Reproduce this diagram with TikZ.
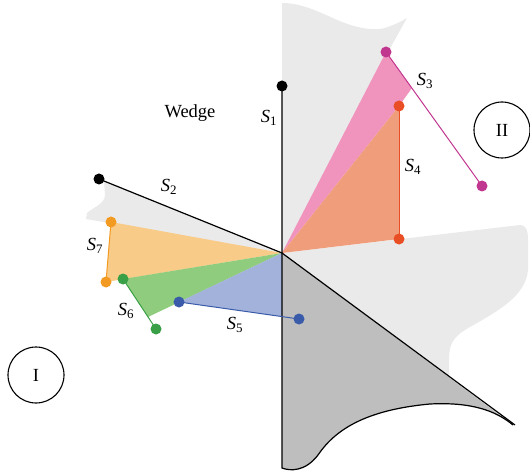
\documentclass[tikz,border=0pt]{standalone}
\usepackage{fontspec}
\setmainfont{Liberation Serif}
\definecolor{lgray}{HTML}{EAEAEA}
\definecolor{dgray}{HTML}{BEBEBE}
\definecolor{pinkf}{HTML}{F094BE}
\definecolor{magl}{HTML}{C1368F}
\definecolor{salf}{HTML}{F09D7C}
\definecolor{redl}{HTML}{E94E24}
\definecolor{orf}{HTML}{F9CB88}
\definecolor{orl}{HTML}{F39A22}
\definecolor{grf}{HTML}{8FCC7E}
\definecolor{grl}{HTML}{3AA048}
\definecolor{blf}{HTML}{A3B2DA}
\definecolor{bll}{HTML}{3A5BAA}
\newcommand\Sl[1]{\textit{S}\textsubscript{#1}}
\begin{document}
\begin{tikzpicture}[x=1pt,y=-1pt,
  dot/.style={circle,fill=#1,inner sep=0pt,minimum size=11pt},
  seg/.style={draw=#1,line width=1pt},
  lab/.style={font=\fontsize{18.5}{20}\selectfont,inner sep=1pt},
  zone/.style={draw,circle,line width=1.1pt,minimum size=56pt,inner sep=0pt,font=\fontsize{18.5}{20}\selectfont}]
\useasboundingbox (0,0) rectangle (530,473);
% key points
\coordinate (O) at (282,253);
\coordinate (p1) at (282,86);
\coordinate (p2) at (99,179);
\coordinate (m1) at (386,52);
\coordinate (m2) at (482,186);
\coordinate (mp) at (412,88);
\coordinate (r1) at (399,106);
\coordinate (r2) at (399,239);
\coordinate (b1) at (179,302);
\coordinate (b2) at (299,319);
\coordinate (bp) at (282,316.6);
\coordinate (g1) at (123,279);
\coordinate (g2) at (156,329);
\coordinate (gp) at (148,317);
\coordinate (o1) at (111,222);
\coordinate (o2) at (106,282);
\coordinate (dE) at (515,425);
\coordinate (bot) at (282,468);
% light gray background shape
\fill[lgray] (O) -- (282,3)
  .. controls (300,3) and (315,10) .. (335,19)
  .. controls (355,28) and (375,32) .. (388,27)
  .. controls (396,24) and (402,21) .. (407,18)
  -- (388,52) -- (O) -- (520,225)
  .. controls (526,225) and (528,230) .. (528,240)
  -- (528,270)
  .. controls (526,295) and (500,310) .. (470,327)
  .. controls (452,337) and (449,345) .. (449,360)
  -- (449,376) -- (O) -- (86,219)
  -- (87,213) .. controls (92,208) and (105,204) .. (105,195)
  -- (104,181) -- (O) -- cycle;
% dark gray
\fill[dgray] (O) -- (bot)
  .. controls (290,471) and (305,472) .. (318,455)
  .. controls (335,430) and (365,410) .. (430,404)
  .. controls (470,402) and (495,410) .. (513,425) -- cycle;
% coloured sectors
\fill[pinkf] (O) -- (m1) -- (mp) -- (r1) -- cycle;
\fill[salf] (O) -- (r1) -- (r2) -- cycle;
\fill[orf] (O) -- (o1) -- (o2) -- cycle;
\fill[grf] (O) -- (g1) -- (gp) -- cycle;
\fill[blf] (O) -- (b1) -- (bp) -- cycle;
% black lines
\draw[line width=1.2pt] (p1) -- (bot)
  .. controls (290,471) and (305,472) .. (318,455)
  .. controls (335,430) and (365,410) .. (430,404)
  .. controls (470,402) and (495,410) .. (513,425);
\draw[line width=1.2pt] (O) -- (dE);
\draw[line width=1.2pt] (p2) -- (O);
% coloured segments
\draw[seg=magl] (m1) -- (m2);
\draw[seg=redl] (r1) -- (r2);
\draw[seg=orl] (o1) -- (o2);
\draw[seg=grl] (g1) -- (g2);
\draw[seg=bll] (b1) -- (b2);
% dots
\node[dot=black] (P1) at (p1) {};
\node[dot=black] (P2) at (p2) {};
\node[dot=magl] (M1) at (m1) {};
\node[dot=magl] (M2) at (m2) {};
\node[dot=redl] (R1) at (r1) {};
\node[dot=redl] (R2) at (r2) {};
\node[dot=orl] (O1) at (o1) {};
\node[dot=orl] (O2) at (o2) {};
\node[dot=grl] (G1) at (g1) {};
\node[dot=grl] (G2) at (g2) {};
\node[dot=bll] (B1) at (b1) {};
\node[dot=bll] (B2) at (b2) {};
% labels
\node[lab] (wedge) at (190,113) {Wedge};
\node[lab] (l1) at (269,118) {\Sl{1}};
\node[lab] (l2) at (169,187) {\Sl{2}};
\node[lab] (l3) at (425,81) {\Sl{3}};
\node[lab] (l4) at (413,167) {\Sl{4}};
\node[lab] (l5) at (235,325) {\Sl{5}};
\node[lab] (l6) at (126,311) {\Sl{6}};
\node[lab] (l7) at (95,246) {\Sl{7}};
\node[zone] (zI) at (36,375) {I};
\node[zone] (zII) at (502,130) {II};
\end{tikzpicture}
\end{document}
